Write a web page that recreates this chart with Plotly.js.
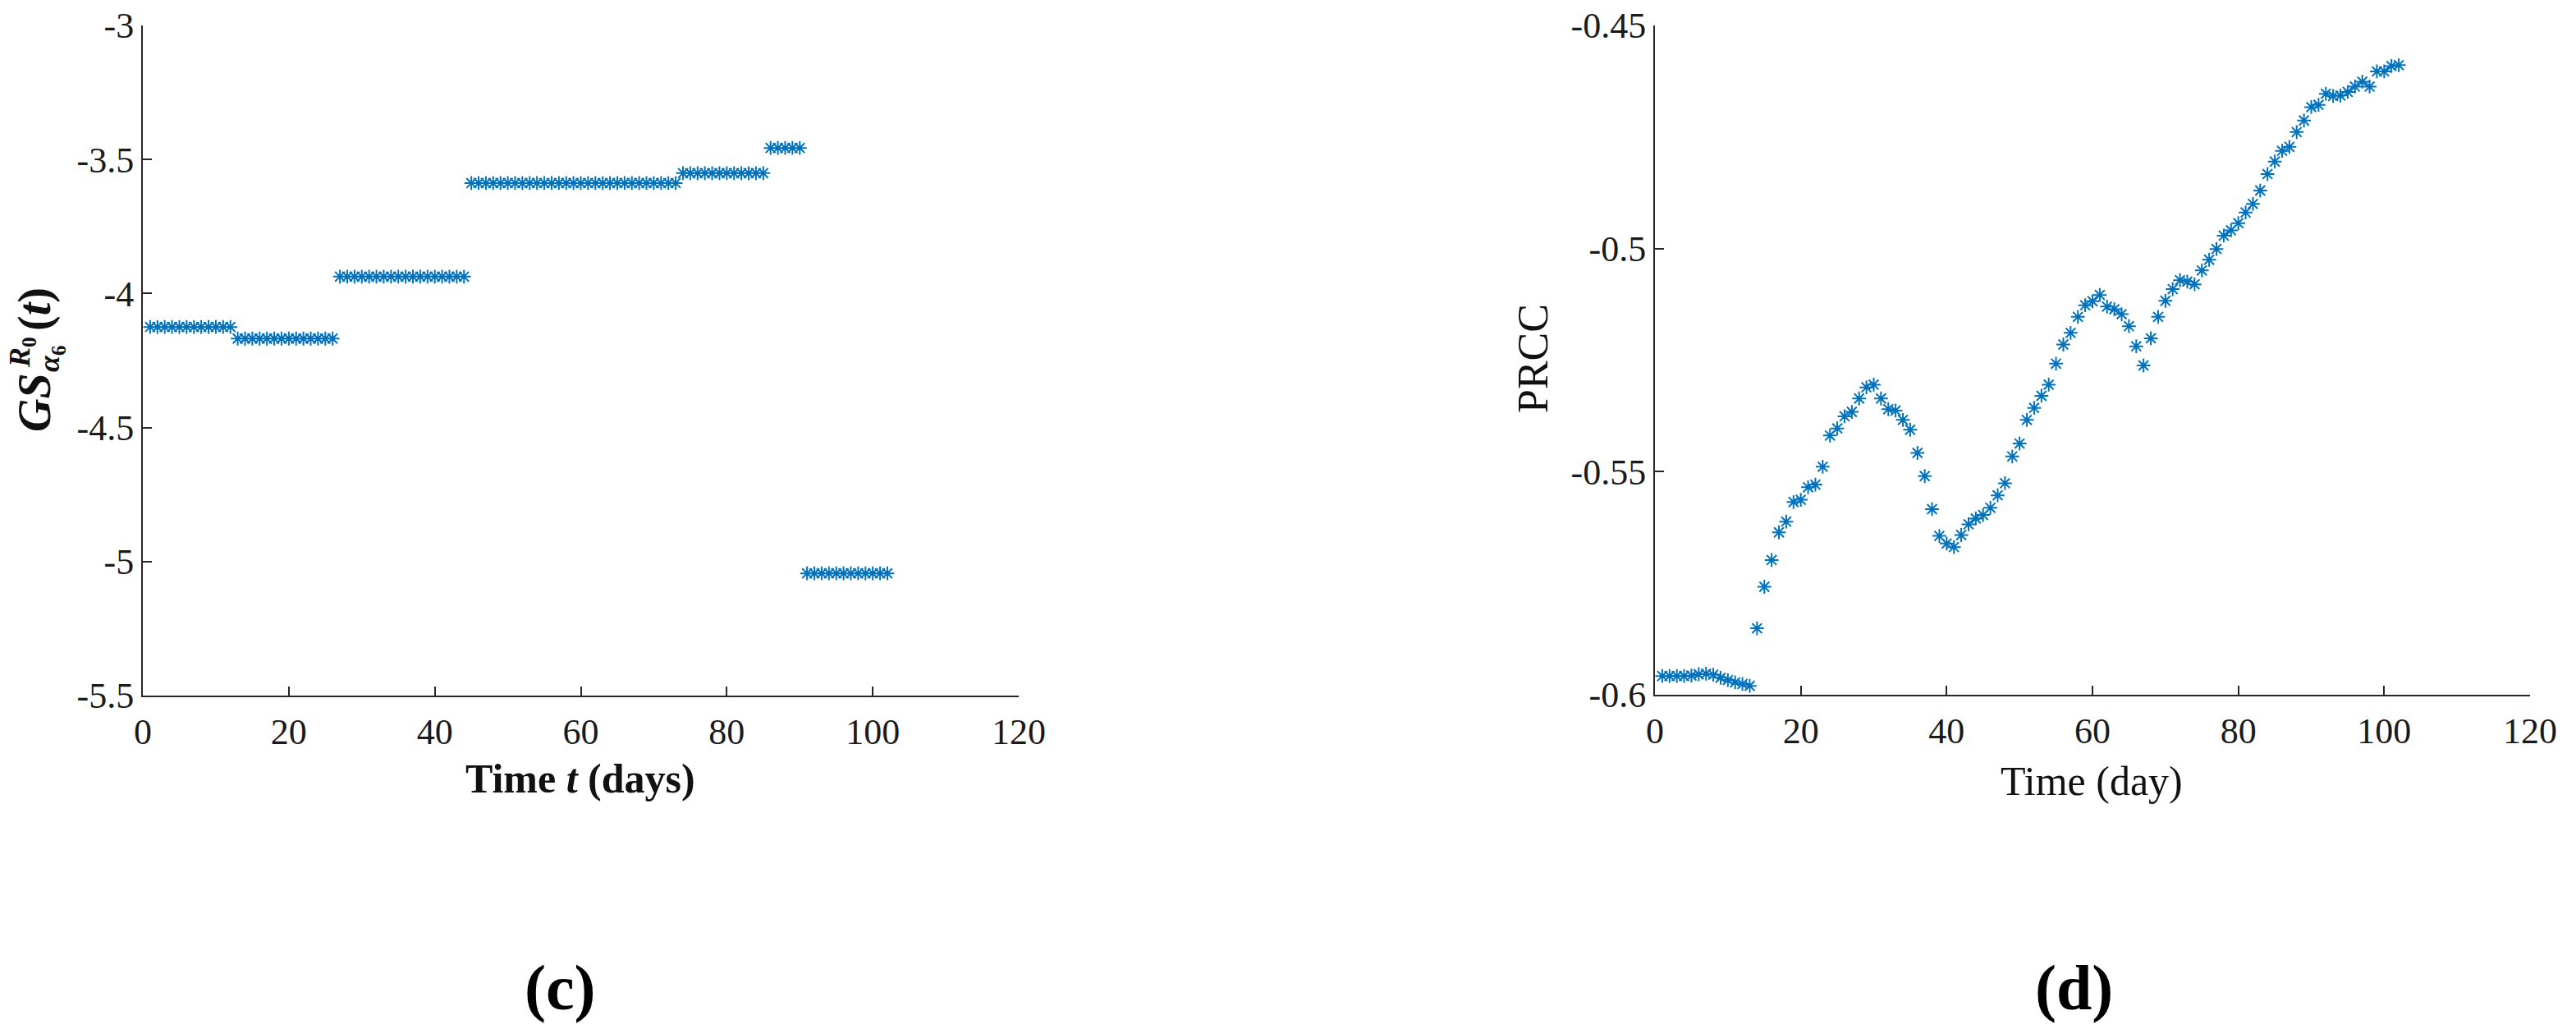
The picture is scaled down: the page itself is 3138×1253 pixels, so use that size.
<!DOCTYPE html>
<html>
<head>
<meta charset="utf-8">
<script src="https://cdn.plot.ly/plotly-3.0.1.min.js"></script>
<style>html,body{margin:0;padding:0;background:#fff;}#chart{width:3138px;height:1253px;}</style>
</head>
<body>
<div id="chart"></div>
<script>
// ---------- data ----------
const days = [1,2,3,4,5,6,7,8,9,10,11,12,13,14,15,16,17,18,19,20,21,22,23,24,25,26,27,28,29,30,31,32,33,34,35,36,37,38,39,40,41,42,43,44,45,46,47,48,49,50,51,52,53,54,55,56,57,58,59,60,61,62,63,64,65,66,67,68,69,70,71,72,73,74,75,76,77,78,79,80,81,82,83,84,85,86,87,88,89,90,91,92,93,94,95,96,97,98,99,100,101,102];

// panel (c): GS^{R0}_{alpha6}(t)
const gsValues = [
 -4.125,-4.125,-4.125,-4.125,-4.125,-4.125,-4.125,-4.125,-4.125,-4.125,-4.125,-4.125,
 -4.168,-4.168,-4.168,-4.168,-4.168,-4.168,-4.168,-4.168,-4.168,-4.168,-4.168,-4.168,-4.168,-4.168,
 -3.937,-3.937,-3.937,-3.937,-3.937,-3.937,-3.937,-3.937,-3.937,-3.937,-3.937,-3.937,-3.937,-3.937,-3.937,-3.937,-3.937,-3.937,
 -3.588,-3.588,-3.588,-3.588,-3.588,-3.588,-3.588,-3.588,-3.588,-3.588,-3.588,-3.588,-3.588,-3.588,-3.588,-3.588,-3.588,-3.588,-3.588,-3.588,-3.588,-3.588,-3.588,-3.588,-3.588,-3.588,-3.588,-3.588,-3.588,
 -3.551,-3.551,-3.551,-3.551,-3.551,-3.551,-3.551,-3.551,-3.551,-3.551,-3.551,-3.551,
 -3.457,-3.457,-3.457,-3.457,-3.457,
 -5.044,-5.044,-5.044,-5.044,-5.044,-5.044,-5.044,-5.044,-5.044,-5.044,-5.044,-5.044
];

// panel (d): PRCC
const prccValues = [
 -0.5958,-0.5958,-0.5958,-0.5958,-0.5957,-0.5954,-0.5953,-0.5955,-0.5962,-0.5967,
 -0.5972,-0.5976,-0.5980,-0.5851,-0.5758,-0.5698,-0.5636,-0.5612,-0.5568,-0.5563,
 -0.5535,-0.5529,-0.5489,-0.5419,-0.5403,-0.5376,-0.5366,-0.5336,-0.5311,-0.5305,
 -0.5336,-0.5360,-0.5363,-0.5384,-0.5406,-0.5458,-0.5510,-0.5584,-0.5644,-0.5661,
 -0.5669,-0.5642,-0.5618,-0.5605,-0.5597,-0.5581,-0.5553,-0.5526,-0.5466,-0.5437,
 -0.5384,-0.5357,-0.5330,-0.5305,-0.5258,-0.5215,-0.5189,-0.5153,-0.5127,-0.5118,
 -0.5104,-0.5130,-0.5136,-0.5147,-0.5174,-0.5219,-0.5262,-0.5201,-0.5153,-0.5117,
 -0.5091,-0.5071,-0.5074,-0.5080,-0.5049,-0.5025,-0.5001,-0.4971,-0.4959,-0.4943,
 -0.4919,-0.4900,-0.4870,-0.4833,-0.4805,-0.4781,-0.4772,-0.4739,-0.4713,-0.4683,
 -0.4678,-0.4653,-0.4658,-0.4657,-0.4649,-0.4637,-0.4626,-0.4637,-0.4603,-0.4603,
 -0.4591,-0.4589
];

// tick labels
const xTickVals = [0,20,40,60,80,100,120];
const xTickText = ['0','20','40','60','80','100','120'];
const gsTickVals = [-5.5,-5,-4.5,-4,-3.5,-3];
const gsTickText = ['-5.5','-5','-4.5','-4','-3.5','-3'];
const prccTickVals = [-0.6,-0.55,-0.5,-0.45];
const prccTickText = ['-0.6','-0.55','-0.5','-0.45'];

// ---------- figure ----------
const W = 3138, H = 1253;
const px = x => x / W;
const py = y => 1 - y / H;

const blue = '#0072BD';
const axisColor = '#262626';
const serif = 'Liberation Serif, Times New Roman, serif';

const marker = {symbol: 'asterisk-open', size: 14, color: blue, line: {color: blue, width: 2}};

const traces = [
  {x: days, y: gsValues, xaxis: 'x', yaxis: 'y', type: 'scatter', mode: 'markers', marker: marker},
  {x: days, y: prccValues, xaxis: 'x2', yaxis: 'y2', type: 'scatter', mode: 'markers', marker: marker}
];

const axBase = {
  showgrid: false, zeroline: false, showline: true, linecolor: axisColor, linewidth: 2,
  ticks: 'inside', ticklen: 11, tickwidth: 2, tickcolor: axisColor,
  tickfont: {family: serif, size: 44, color: '#1a1a1a'}, fixedrange: true
};

const layout = {
  width: W, height: H,
  margin: {l: 0, r: 0, t: 0, b: 0},
  paper_bgcolor: '#ffffff', plot_bgcolor: '#ffffff',
  showlegend: false,
  xaxis: Object.assign({}, axBase, {domain: [px(174), px(1241)], range: [0, 120], tickmode: 'array', tickvals: xTickVals, ticktext: xTickText, ticklabelstandoff: 4, anchor: 'y'}),
  yaxis: Object.assign({}, axBase, {domain: [py(847), py(31)], range: [-5.5, -3], tickmode: 'array', tickvals: gsTickVals, ticktext: gsTickText, ticklabelstandoff: 0, anchor: 'x'}),
  xaxis2: Object.assign({}, axBase, {domain: [px(2016), px(3082)], range: [0, 120], tickmode: 'array', tickvals: xTickVals, ticktext: xTickText, ticklabelstandoff: 4, anchor: 'y2'}),
  yaxis2: Object.assign({}, axBase, {domain: [py(846), py(31)], range: [-0.6, -0.45], tickmode: 'array', tickvals: prccTickVals, ticktext: prccTickText, ticklabelstandoff: 0, anchor: 'x2'}),
  annotations: [
    // panel (c) titles
    {xref: 'paper', yref: 'paper', x: px(707), y: py(948), xanchor: 'center', yanchor: 'middle', showarrow: false,
     text: '<b>Time <i>t</i> (days)</b>', font: {family: serif, size: 50, color: '#111'}},
    {xref: 'paper', yref: 'paper', x: px(42), y: py(490), xanchor: 'center', yanchor: 'middle', showarrow: false, textangle: -90,
     text: '<b><i>GS</i></b>', font: {family: serif, size: 56, color: '#111'}},
    {xref: 'paper', yref: 'paper', x: px(27), y: py(429), xanchor: 'center', yanchor: 'middle', showarrow: false, textangle: -90,
     text: '<b><i>R</i><sub>0</sub></b>', font: {family: serif, size: 36, color: '#111'}},
    {xref: 'paper', yref: 'paper', x: px(62), y: py(437), xanchor: 'center', yanchor: 'middle', showarrow: false, textangle: -90,
     text: '<b><i>α</i><sub>6</sub></b>', font: {family: serif, size: 36, color: '#111'}},
    {xref: 'paper', yref: 'paper', x: px(42), y: py(377), xanchor: 'center', yanchor: 'middle', showarrow: false, textangle: -90,
     text: '<b>(<i>t</i>)</b>', font: {family: serif, size: 56, color: '#111'}},
    // panel (d) titles
    {xref: 'paper', yref: 'paper', x: px(2548), y: py(951), xanchor: 'center', yanchor: 'middle', showarrow: false,
     text: 'Time (day)', font: {family: serif, size: 50, color: '#111'}},
    {xref: 'paper', yref: 'paper', x: px(1867), y: py(437), xanchor: 'center', yanchor: 'middle', showarrow: false, textangle: -90,
     text: 'PRCC', font: {family: serif, size: 52, color: '#111'}},
    // panel letters
    {xref: 'paper', yref: 'paper', x: px(682), y: py(1202), xanchor: 'center', yanchor: 'middle', showarrow: false,
     text: '<b>(c)</b>', font: {family: serif, size: 78, color: '#000'}},
    {xref: 'paper', yref: 'paper', x: px(2526), y: py(1202), xanchor: 'center', yanchor: 'middle', showarrow: false,
     text: '<b>(d)</b>', font: {family: serif, size: 78, color: '#000'}}
  ]
};

Plotly.newPlot('chart', traces, layout, {displayModeBar: false, staticPlot: true});
</script>
</body>
</html>
